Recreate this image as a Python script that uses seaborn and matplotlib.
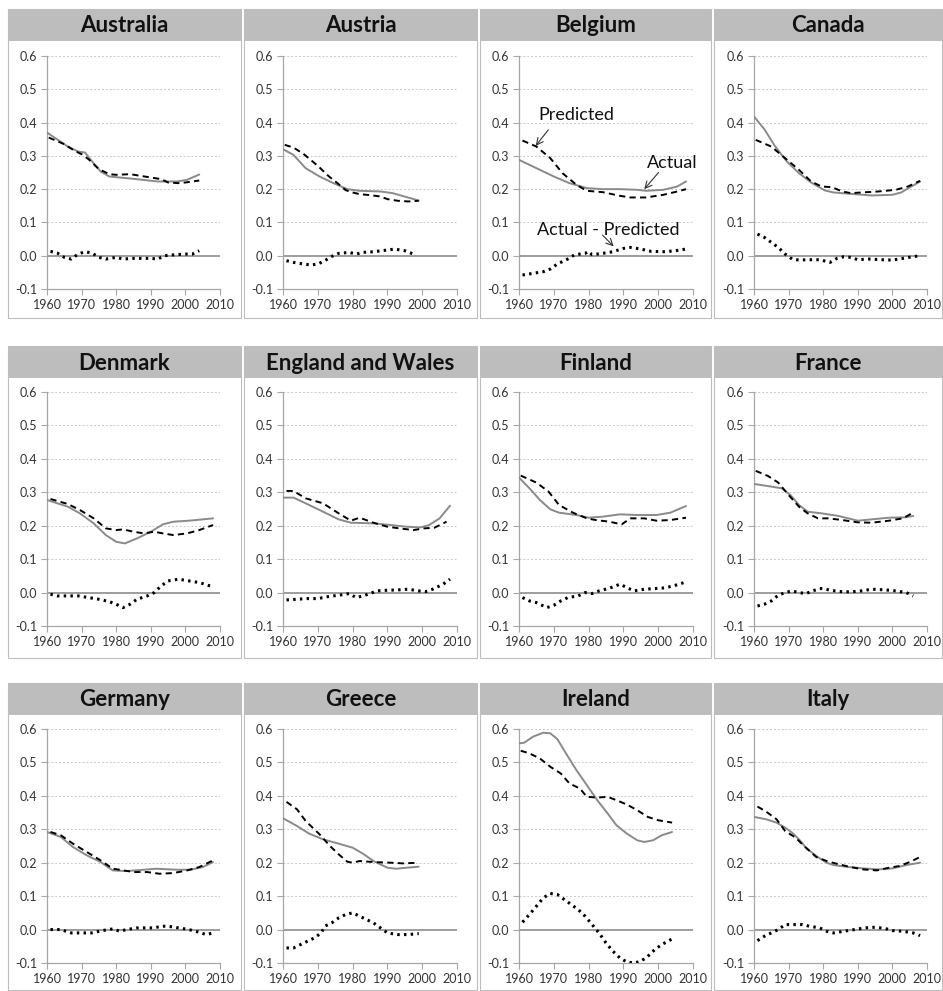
import matplotlib
matplotlib.use("Agg")
import matplotlib.pyplot as plt
from matplotlib.patches import Rectangle
import pandas as pd
import seaborn as sns

# ---------------------------------------------------------------------------
# Data: (years, values) for actual, predicted and actual - predicted
# ---------------------------------------------------------------------------
countries = ["Australia", "Austria", "Belgium", "Canada",
             "Denmark", "England and Wales", "Finland", "France",
             "Germany", "Greece", "Ireland", "Italy"]

australia_actual = ([1960, 1966, 1969, 1971, 1972.5, 1975.5, 1978, 1985, 1992, 1997.5, 2000.5, 2004],
                    [0.370, 0.328, 0.313, 0.310, 0.290, 0.253, 0.238, 0.231, 0.223, 0.223, 0.228, 0.244])
australia_pred = ([1960.5, 1965, 1968, 1970, 1972, 1975, 1978, 1980, 1984, 1990, 1993, 1995, 1998, 2000, 2004],
                  [0.355, 0.335, 0.315, 0.305, 0.290, 0.260, 0.245, 0.243, 0.245, 0.235, 0.230, 0.220, 0.218, 0.220, 0.226])
australia_diff = ([1961, 1963, 1965, 1967, 1969, 1971, 1973, 1975, 1977, 1980, 1982, 1985, 1990, 1992, 1994, 1997, 2000, 2002, 2004],
                  [0.013, 0.008, -0.005, -0.010, 0.005, 0.012, 0.008, -0.005, -0.010, -0.005, -0.010, -0.008, -0.008, -0.010, 0.000, 0.003, 0.005, 0.005, 0.015])

austria_actual = ([1960, 1963, 1966.5, 1970.5, 1974.5, 1978.5, 1982, 1988, 1991.5, 1995.5, 1999],
                  [0.320, 0.303, 0.263, 0.238, 0.218, 0.200, 0.195, 0.193, 0.188, 0.176, 0.166])
austria_pred = ([1960.5, 1963, 1966, 1970, 1973, 1976, 1978, 1980, 1982, 1985, 1988, 1990, 1993, 1996, 1999],
                [0.333, 0.325, 0.305, 0.270, 0.240, 0.215, 0.197, 0.190, 0.185, 0.182, 0.178, 0.170, 0.165, 0.163, 0.165])
austria_diff = ([1961, 1963, 1966, 1968, 1970, 1972, 1974, 1976, 1979, 1981, 1983, 1986, 1990, 1992, 1995, 1998],
                [-0.015, -0.020, -0.025, -0.028, -0.025, -0.015, -0.002, 0.007, 0.010, 0.005, 0.010, 0.012, 0.017, 0.020, 0.015, 0.003])

belgium_actual = ([1960, 1965, 1970, 1974.5, 1979.5, 1984, 1989, 1994, 1996.5, 2001.5, 2005.5, 2008],
                  [0.288, 0.263, 0.238, 0.218, 0.203, 0.200, 0.200, 0.198, 0.195, 0.198, 0.208, 0.223])
belgium_pred = ([1961, 1965, 1969, 1972.5, 1976.5, 1979.5, 1984, 1989, 1992, 1996.5, 2001.5, 2005.5, 2008],
                [0.346, 0.328, 0.293, 0.248, 0.213, 0.195, 0.191, 0.180, 0.175, 0.175, 0.183, 0.193, 0.200])
belgium_diff = ([1961, 1964, 1967, 1969, 1971, 1974, 1976, 1979, 1980, 1981, 1984, 1987, 1990, 1992, 1995, 1998, 2002, 2005, 2008],
                [-0.058, -0.053, -0.048, -0.040, -0.025, -0.010, 0.003, 0.007, 0.013, 0.003, 0.007, 0.012, 0.022, 0.025, 0.020, 0.013, 0.012, 0.015, 0.020])

canada_actual = ([1960, 1963, 1966, 1969.5, 1973, 1976.5, 1980.5, 1983, 1989, 1994, 2000, 2002.5, 2005.5, 2008],
                 [0.418, 0.380, 0.330, 0.283, 0.248, 0.220, 0.196, 0.190, 0.185, 0.181, 0.183, 0.190, 0.208, 0.223])
canada_pred = ([1960.5, 1965, 1969, 1973, 1976.5, 1979.5, 1982.5, 1985.5, 1988, 1991, 1996, 2001, 2004.5, 2008],
               [0.348, 0.328, 0.293, 0.258, 0.223, 0.208, 0.206, 0.193, 0.188, 0.190, 0.193, 0.198, 0.208, 0.225])
canada_diff = ([1961, 1963, 1965, 1967, 1969, 1971, 1973, 1976, 1979, 1982, 1984, 1986, 1988, 1990, 1993, 1997, 2000, 2003, 2006, 2008],
               [0.065, 0.055, 0.040, 0.025, 0.005, -0.010, -0.013, -0.012, -0.012, -0.020, -0.008, -0.003, -0.005, -0.012, -0.010, -0.012, -0.013, -0.008, -0.003, 0.000])

denmark_actual = ([1960, 1966, 1969.5, 1973.5, 1977, 1980, 1982.5, 1986, 1990, 1993.5, 1996.5, 2001, 2008],
                  [0.277, 0.257, 0.237, 0.207, 0.172, 0.152, 0.147, 0.162, 0.182, 0.204, 0.212, 0.215, 0.222])
denmark_pred = ([1961, 1966, 1969.5, 1973.5, 1977, 1980, 1982, 1985, 1988, 1991, 1993.5, 1996.5, 2000.5, 2004, 2008],
                [0.280, 0.265, 0.247, 0.222, 0.192, 0.187, 0.189, 0.182, 0.177, 0.182, 0.177, 0.172, 0.177, 0.187, 0.202])
denmark_diff = ([1961, 1963, 1966, 1969, 1972, 1975, 1978, 1980, 1982, 1984, 1986, 1989, 1991, 1993, 1995, 1998, 2001, 2004, 2008],
                [-0.005, -0.010, -0.010, -0.010, -0.015, -0.020, -0.027, -0.035, -0.045, -0.035, -0.020, -0.010, 0.000, 0.020, 0.035, 0.040, 0.035, 0.030, 0.017])

england_actual = ([1960, 1963, 1966.5, 1971.5, 1976, 1979.5, 1986, 1991, 1995.5, 1999.5, 2002, 2005, 2008],
                  [0.284, 0.284, 0.267, 0.242, 0.219, 0.209, 0.207, 0.202, 0.197, 0.195, 0.202, 0.222, 0.260])
england_pred = ([1961, 1963, 1966.5, 1971.5, 1976, 1979.5, 1982, 1986, 1990, 1993.5, 1997.5, 2000.5, 2003.5, 2007],
                [0.304, 0.304, 0.282, 0.267, 0.237, 0.215, 0.224, 0.209, 0.197, 0.192, 0.187, 0.192, 0.194, 0.212])
england_diff = ([1961, 1964, 1967, 1970, 1973, 1976, 1979, 1981, 1983, 1985, 1987, 1990, 1993, 1996, 1999, 2001, 2003, 2006, 2008],
                [-0.022, -0.020, -0.018, -0.018, -0.012, -0.008, -0.003, -0.015, -0.010, -0.003, 0.005, 0.007, 0.008, 0.010, 0.005, 0.003, 0.010, 0.025, 0.040])

finland_actual = ([1960, 1963, 1966, 1969, 1971.5, 1976.5, 1980, 1984, 1989, 1994, 1999.5, 2003.5, 2008],
                  [0.344, 0.312, 0.277, 0.249, 0.239, 0.232, 0.224, 0.227, 0.234, 0.232, 0.232, 0.239, 0.259])
finland_pred = ([1960.5, 1965, 1968.5, 1971.5, 1975.5, 1979.5, 1982, 1986, 1989.5, 1992, 1996, 1999.5, 2003.5, 2008],
                [0.350, 0.329, 0.302, 0.262, 0.239, 0.222, 0.217, 0.212, 0.204, 0.222, 0.222, 0.215, 0.217, 0.224])
finland_diff = ([1961, 1963, 1965, 1967, 1968, 1970, 1972, 1974, 1977, 1979, 1981, 1983, 1986, 1989, 1991, 1993, 1996, 1999, 2002, 2005, 2008],
                [-0.015, -0.025, -0.030, -0.040, -0.045, -0.038, -0.025, -0.015, -0.010, 0.000, -0.003, 0.005, 0.013, 0.025, 0.015, 0.005, 0.010, 0.012, 0.014, 0.022, 0.032])

france_actual = ([1960, 1965, 1968, 1970.5, 1973, 1975.5, 1979.5, 1984.5, 1990, 1994, 1999, 2003.5, 2006],
                 [0.325, 0.317, 0.312, 0.292, 0.262, 0.242, 0.237, 0.229, 0.215, 0.219, 0.224, 0.225, 0.229])
france_pred = ([1960.5, 1964, 1967, 1970, 1973, 1975.5, 1978.5, 1981.5, 1985.5, 1990, 1994, 1999, 2003, 2006],
               [0.364, 0.349, 0.329, 0.292, 0.257, 0.237, 0.222, 0.222, 0.217, 0.210, 0.209, 0.215, 0.222, 0.239])
france_diff = ([1961, 1963, 1965, 1967, 1969, 1971, 1973, 1975, 1977, 1979, 1980, 1982, 1985, 1988, 1991, 1994, 1998, 2001, 2004, 2006],
               [-0.040, -0.035, -0.025, -0.008, 0.000, 0.005, 0.000, -0.003, 0.005, 0.012, 0.012, 0.007, 0.003, 0.002, 0.005, 0.010, 0.008, 0.005, 0.000, -0.010])

germany_actual = ([1960, 1964, 1967.5, 1971.5, 1975.5, 1979, 1983, 1988, 1991.5, 1997.5, 2001.5, 2005, 2008],
                  [0.292, 0.277, 0.247, 0.222, 0.202, 0.177, 0.175, 0.179, 0.182, 0.179, 0.179, 0.187, 0.202])
germany_pred = ([1961, 1964, 1967.5, 1971.5, 1975.5, 1979, 1981, 1985, 1989, 1992.5, 1996.5, 2000.5, 2004, 2008],
                [0.292, 0.282, 0.257, 0.232, 0.207, 0.182, 0.179, 0.172, 0.172, 0.167, 0.169, 0.177, 0.187, 0.207])
germany_diff = ([1961, 1964, 1967, 1970, 1973, 1976, 1979, 1981, 1983, 1986, 1989, 1991, 1993, 1995, 1998, 2001, 2004, 2006, 2008],
                [0.000, 0.000, -0.010, -0.010, -0.010, -0.003, 0.002, -0.005, 0.000, 0.005, 0.005, 0.005, 0.010, 0.010, 0.005, 0.000, -0.008, -0.015, -0.010])

greece_actual = ([1960, 1964, 1967.5, 1971.5, 1976, 1980, 1983, 1986, 1990, 1992.5, 1995.5, 1999],
                 [0.333, 0.310, 0.287, 0.270, 0.257, 0.245, 0.227, 0.205, 0.185, 0.182, 0.185, 0.188])
greece_pred = ([1961, 1964, 1966.5, 1970.5, 1973.5, 1976, 1978.5, 1980, 1982, 1986, 1991, 1994.5, 1999],
               [0.382, 0.360, 0.325, 0.285, 0.250, 0.225, 0.203, 0.200, 0.205, 0.202, 0.200, 0.198, 0.200])
greece_diff = ([1961, 1963, 1965, 1967, 1969, 1971, 1972, 1974, 1976, 1978, 1980, 1982, 1984, 1986, 1988, 1990, 1993, 1996, 1999],
               [-0.055, -0.055, -0.045, -0.035, -0.025, -0.010, 0.010, 0.020, 0.035, 0.045, 0.050, 0.040, 0.030, 0.020, 0.005, -0.010, -0.015, -0.015, -0.012])

ireland_actual = ([1960, 1961.5, 1964, 1967, 1969, 1971, 1973.5, 1976.5, 1979.5, 1982.5, 1985.5, 1988, 1991, 1994, 1996, 1998.5, 2001, 2004],
                  [0.557, 0.559, 0.577, 0.589, 0.587, 0.570, 0.527, 0.477, 0.432, 0.387, 0.347, 0.312, 0.287, 0.267, 0.262, 0.267, 0.282, 0.292])
ireland_pred = ([1960.5, 1963, 1966, 1969, 1972, 1974.5, 1977.5, 1979.5, 1982.5, 1985.5, 1988, 1991, 1994, 1997, 2000, 2004],
                [0.535, 0.527, 0.512, 0.487, 0.467, 0.437, 0.422, 0.397, 0.395, 0.397, 0.387, 0.374, 0.357, 0.337, 0.327, 0.320])
ireland_diff = ([1961, 1963, 1965, 1967, 1969, 1971, 1973, 1975, 1977, 1979, 1981, 1983, 1985, 1987, 1989, 1991, 1993, 1995, 1997, 1999, 2001, 2004],
                [0.022, 0.045, 0.070, 0.095, 0.108, 0.105, 0.090, 0.075, 0.060, 0.040, 0.015, -0.010, -0.040, -0.065, -0.085, -0.097, -0.100, -0.095, -0.080, -0.060, -0.045, -0.028])

italy_actual = ([1960, 1963.5, 1966.5, 1969, 1971, 1973, 1975, 1978, 1981, 1983, 1986.5, 1991.5, 1996, 2000, 2004, 2008],
                [0.337, 0.330, 0.320, 0.305, 0.290, 0.270, 0.245, 0.220, 0.200, 0.193, 0.188, 0.183, 0.180, 0.183, 0.193, 0.200])
italy_pred = ([1961, 1963.5, 1966.5, 1969, 1972, 1975, 1978, 1981, 1983.5, 1987.5, 1991.5, 1995.5, 1999, 2002, 2005, 2008],
              [0.368, 0.353, 0.330, 0.295, 0.275, 0.245, 0.217, 0.205, 0.198, 0.188, 0.180, 0.177, 0.185, 0.190, 0.202, 0.217])
italy_diff = ([1961, 1963, 1965, 1967, 1969, 1972, 1974, 1976, 1979, 1981, 1983, 1986, 1989, 1992, 1995, 1998, 2000, 2003, 2006, 2008],
              [-0.033, -0.020, -0.010, 0.000, 0.015, 0.015, 0.015, 0.010, 0.005, -0.005, -0.010, -0.005, 0.000, 0.005, 0.007, 0.003, -0.003, -0.005, -0.010, -0.018])

series = {
    "Australia": (australia_actual, australia_pred, australia_diff),
    "Austria": (austria_actual, austria_pred, austria_diff),
    "Belgium": (belgium_actual, belgium_pred, belgium_diff),
    "Canada": (canada_actual, canada_pred, canada_diff),
    "Denmark": (denmark_actual, denmark_pred, denmark_diff),
    "England and Wales": (england_actual, england_pred, england_diff),
    "Finland": (finland_actual, finland_pred, finland_diff),
    "France": (france_actual, france_pred, france_diff),
    "Germany": (germany_actual, germany_pred, germany_diff),
    "Greece": (greece_actual, greece_pred, greece_diff),
    "Ireland": (ireland_actual, ireland_pred, ireland_diff),
    "Italy": (italy_actual, italy_pred, italy_diff),
}

y_ticks = [-0.1, 0.0, 0.1, 0.2, 0.3, 0.4, 0.5, 0.6]
x_ticks = [1960, 1970, 1980, 1990, 2000, 2010]

# ---------------------------------------------------------------------------
# Layout (pixels on a 943 x 991 canvas)
# ---------------------------------------------------------------------------
W, H = 943, 991
axes_x = [(47, 220), (283, 457), (519, 693), (754, 927)]
axes_y = [(56, 289), (392, 626), (729, 963)]
panel_x = [(8, 241), (244, 477), (480, 711), (714, 942)]
panel_y = [(9, 318), (346, 658), (683, 990)]
title_h = 32

sns.set_theme(style="white")
plt.rcParams["font.family"] = ["Lato", "DejaVu Sans"]

fig = plt.figure(figsize=(W / 100, H / 100), dpi=100)
fig.patch.set_facecolor("white")

grey_axis = "#a6a6a6"
actual_col = "#8a8a8a"

for i, name in enumerate(countries):
    r, c = divmod(i, 4)
    px0, px1 = panel_x[c]
    py0, py1 = panel_y[r]

    # panel frame and title bar
    fig.add_artist(Rectangle((px0 / W, 1 - py1 / H), (px1 - px0) / W, (py1 - py0) / H,
                             transform=fig.transFigure, facecolor="none",
                             edgecolor="#bdbdbd", linewidth=0.8))
    fig.add_artist(Rectangle((px0 / W, 1 - (py0 + title_h) / H), (px1 - px0) / W, title_h / H,
                             transform=fig.transFigure, facecolor="#bdbdbd",
                             edgecolor="none"))
    fig.text((px0 + px1) / 2 / W, 1 - (py0 + title_h / 2 + 1) / H, name,
             ha="center", va="center", fontsize=16, fontweight="bold", color="#111111")

    ax0, ax1 = axes_x[c]
    ay0, ay1 = axes_y[r]
    ax = fig.add_axes([ax0 / W, 1 - ay1 / H, (ax1 - ax0) / W, (ay1 - ay0) / H])
    ax.set_facecolor("none")

    act, pred, diff = series[name]

    for yv in y_ticks[2:]:
        ax.axhline(yv, color="#c8c8c8", linewidth=0.7, linestyle=(0, (2, 2)), zorder=0)
    ax.axhline(0.0, color="#8c8c8c", linewidth=1.2, zorder=1)

    sns.lineplot(x=act[0], y=act[1], ax=ax, color=actual_col, linewidth=1.4, zorder=3)
    sns.lineplot(x=pred[0], y=pred[1], ax=ax, color="black", linewidth=1.4,
                 linestyle=(0, (3.2, 2.2)), zorder=4)
    sns.lineplot(x=diff[0], y=diff[1], ax=ax, color="black", linewidth=2.2,
                 linestyle=(0, (0.8, 1.4)), zorder=4)

    ax.set_xlim(1960, 2010)
    ax.set_ylim(-0.1, 0.6)
    ax.set_xticks(x_ticks)
    ax.set_yticks(y_ticks)
    ax.set_yticklabels([f"{v:.1f}" for v in y_ticks])
    ax.set_xticklabels([str(v) for v in x_ticks])
    ax.set_xlabel("")
    ax.set_ylabel("")
    for side in ("top", "right"):
        ax.spines[side].set_visible(False)
    for side in ("left", "bottom"):
        ax.spines[side].set_color(grey_axis)
        ax.spines[side].set_linewidth(0.9)
    ax.tick_params(axis="both", which="major", direction="out", length=4,
                   width=0.8, color=grey_axis, labelsize=9, labelcolor="#333333",
                   left=True, bottom=True, pad=3)

    if name == "Belgium":
        arrow = dict(arrowstyle="->", color="#333333", linewidth=0.8, shrinkA=0, shrinkB=0)
        ax.text(1976.5, 0.423, "Predicted", ha="center", va="center", fontsize=13, color="#111111")
        ax.annotate("", xy=(1964.8, 0.33), xytext=(1968.4, 0.378), arrowprops=arrow)
        ax.text(2004.0, 0.28, "Actual", ha="center", va="center", fontsize=13, color="#111111")
        ax.annotate("", xy=(1996.0, 0.20), xytext=(2000.1, 0.25), arrowprops=arrow)
        ax.text(1985.7, 0.078, "Actual - Predicted", ha="center", va="center", fontsize=13, color="#111111")
        ax.annotate("", xy=(1987.2, 0.028), xytext=(1984.0, 0.062), arrowprops=arrow)

fig.savefig("out.png", dpi=100, facecolor="white")
